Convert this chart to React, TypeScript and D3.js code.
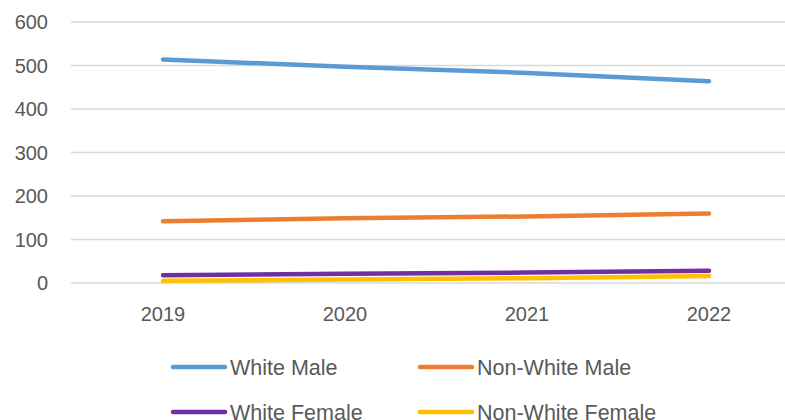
import React, { useEffect, useRef } from "react";
import * as d3 from "d3";

const years = ["2019", "2020", "2021", "2022"];
const whiteMale = [514, 497, 483, 464];
const nonWhiteMale = [142, 149, 153, 160];
const whiteFemale = [18, 21, 24, 28];
const nonWhiteFemale = [5, 8, 11, 16];
const yTicks = [0, 100, 200, 300, 400, 500, 600];

const seriesNames = ["White Male", "Non-White Male", "White Female", "Non-White Female"];
const seriesColors = ["#5B9BD5", "#ED7D31", "#7030A0", "#FFC000"];

export default function App() {
    const ref = useRef<SVGSVGElement>(null);

    useEffect(() => {
        const width = 785;
        const height = 420;
        const margin = { top: 22, left: 71, bottom: 137 };
        const font = "'Liberation Sans', Arial, sans-serif";
        const textColor = "#595959";

        const svg = d3.select(ref.current);
        svg.selectAll("*").remove();

        const xScale = d3
            .scaleBand<string>()
            .domain(years)
            .range([margin.left + 1, margin.left + 1 + 182 * years.length]);

        const yScale = d3
            .scaleLinear()
            .domain([0, 600])
            .range([height - margin.bottom, margin.top]);

        // gridlines
        svg
            .selectAll(".grid")
            .data(yTicks)
            .enter()
            .append("line")
            .attr("class", "grid")
            .attr("x1", margin.left)
            .attr("x2", width)
            .attr("y1", (d) => yScale(d))
            .attr("y2", (d) => yScale(d))
            .attr("stroke", "#D9D9D9")
            .attr("stroke-width", 1.5);

        // y labels
        svg
            .selectAll(".ylabel")
            .data(yTicks)
            .enter()
            .append("text")
            .attr("class", "ylabel")
            .attr("x", 48)
            .attr("y", (d) => yScale(d))
            .attr("dy", "0.36em")
            .attr("text-anchor", "end")
            .style("font-family", font)
            .style("font-size", "20px")
            .style("fill", textColor)
            .text((d) => d);

        // x labels
        svg
            .selectAll(".xlabel")
            .data(years)
            .enter()
            .append("text")
            .attr("class", "xlabel")
            .attr("x", (d) => xScale(d)! + xScale.bandwidth() / 2)
            .attr("y", 321)
            .attr("text-anchor", "middle")
            .style("font-family", font)
            .style("font-size", "20px")
            .style("fill", textColor)
            .text((d) => d);

        const line = d3
            .line<number>()
            .x((d, i) => xScale(years[i])! + xScale.bandwidth() / 2)
            .y((d) => yScale(d));

        const allSeries = [whiteMale, nonWhiteMale, whiteFemale, nonWhiteFemale];
        allSeries.forEach((values, i) => {
            svg
                .append("path")
                .datum(values)
                .style("fill", "none")
                .attr("stroke", seriesColors[i])
                .attr("stroke-width", 4.5)
                .attr("stroke-linecap", "round")
                .attr("stroke-linejoin", "round")
                .attr("d", line);
        });

        // legend (second row is clipped by the bottom edge, as in the source)
        const legendCols = [171, 418];
        const legendRows = [367, 412];
        const legend = svg
            .selectAll(".legend")
            .data(seriesNames)
            .enter()
            .append("g")
            .attr("class", "legend")
            .attr("transform", (d, i) => `translate(${legendCols[i % 2]}, ${legendRows[Math.floor(i / 2)]})`);

        legend
            .append("line")
            .attr("x1", 2)
            .attr("x2", 54)
            .attr("stroke", (d, i) => seriesColors[i])
            .attr("stroke-width", 4.5)
            .attr("stroke-linecap", "round");

        legend
            .append("text")
            .attr("x", 59)
            .attr("dy", "0.36em")
            .style("font-family", font)
            .style("font-size", "21.5px")
            .style("fill", textColor)
            .text((d) => d);
    }, []);

    return (
        <svg
            ref={ref}
            width={785}
            height={420}
            style={{ position: "absolute", left: 0, top: 0, background: "#fff" }}
        />
    );
}
